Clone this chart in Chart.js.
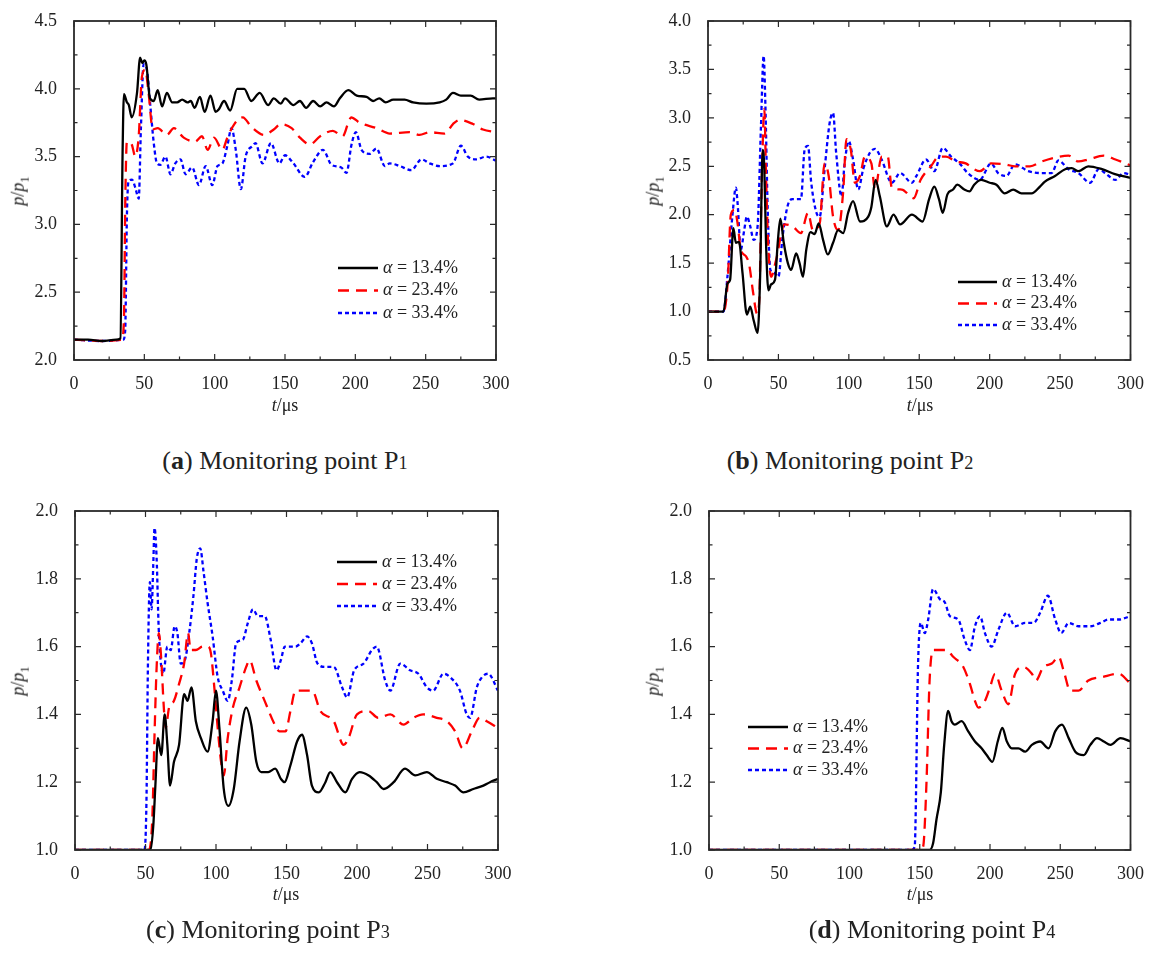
<!DOCTYPE html>
<html>
<head>
<meta charset="utf-8">
<script src="https://cdn.jsdelivr.net/npm/chart.js@4.4.1/dist/chart.umd.min.js"></script>
<style>
  html, body { margin: 0; padding: 0; background: #fff; }
  #page { position: relative; width: 1149px; height: 960px; overflow: hidden; font-family: "Liberation Serif", serif; color: #222; }
  canvas { position: absolute; }
  .ytitle { position: absolute; font-size: 18px; white-space: nowrap; transform: translate(-50%, -50%) rotate(-90deg); }
  .xtitle { position: absolute; font-size: 18px; white-space: nowrap; transform: translate(-50%, -50%); }
  .caption { position: absolute; font-size: 26px; white-space: nowrap; transform: translate(-50%, -50%); }
  .ytitle sub { font-size: 0.7em; font-style: normal; }
  .caption sub { font-size: 0.7em; vertical-align: 0; }
</style>
</head>
<body>
<div id="page">
  <canvas id="chartP1" width="520" height="420" style="left:0;top:0"></canvas>
  <canvas id="chartP2" width="515" height="420" style="left:634px;top:0"></canvas>
  <canvas id="chartP3" width="520" height="420" style="left:0;top:490px"></canvas>
  <canvas id="chartP4" width="515" height="420" style="left:634px;top:490px"></canvas>

  <div class="ytitle" style="left:20px;top:191px"><i>p</i>/<i>p</i><sub>1</sub></div>
  <div class="ytitle" style="left:655px;top:191px"><i>p</i>/<i>p</i><sub>1</sub></div>
  <div class="ytitle" style="left:20px;top:681px"><i>p</i>/<i>p</i><sub>1</sub></div>
  <div class="ytitle" style="left:655px;top:681px"><i>p</i>/<i>p</i><sub>1</sub></div>

  <div class="xtitle" style="left:285px;top:405px"><i>t</i>/μs</div>
  <div class="xtitle" style="left:920px;top:405px"><i>t</i>/μs</div>
  <div class="xtitle" style="left:286px;top:894px"><i>t</i>/μs</div>
  <div class="xtitle" style="left:920px;top:894px"><i>t</i>/μs</div>

  <div class="caption" style="left:285px;top:461px">(<b>a</b>) Monitoring point P<sub>1</sub></div>
  <div class="caption" style="left:850px;top:461px">(<b>b</b>) Monitoring point P<sub>2</sub></div>
  <div class="caption" style="left:268px;top:930px">(<b>c</b>) Monitoring point P<sub>3</sub></div>
  <div class="caption" style="left:932px;top:930px">(<b>d</b>) Monitoring point P<sub>4</sub></div>
</div>

<script>
// gas fraction of each run
const alphaLabels = ["13.4%", "23.4%", "33.4%"];

// [t (μs), p/p1] per monitoring point and gas fraction
const p1_a134 = [[0,2.15],[10,2.15],[20,2.14],[30,2.15],[33,2.16],[34.5,3.5],[35.5,3.96],[37.6,3.9],[39,3.88],[41,3.79],[44.8,3.97],[47,4.23],[48.5,4.19],[50,4.21],[51.4,4.18],[54,3.93],[56.7,3.91],[59.5,3.99],[62.6,3.87],[66,3.97],[69.8,3.9],[73.3,3.9],[76.9,3.92],[80.7,3.9],[83,3.91],[85.7,3.86],[89.5,3.94],[92.9,3.83],[97,3.95],[100.7,3.83],[103,3.85],[106.7,3.91],[111,3.84],[116,4.0],[121,4.0],[126,3.91],[132,3.97],[138,3.88],[142,3.93],[147,3.89],[150,3.93],[156,3.88],[160.6,3.91],[165,3.86],[170,3.91],[175,3.87],[179.5,3.9],[184.8,3.87],[189,3.93],[195,3.99],[201,3.95],[208,3.94],[212.6,3.91],[217,3.93],[221.6,3.9],[227,3.92],[235,3.92],[241,3.9],[250.5,3.89],[260,3.9],[264.6,3.92],[269.4,3.97],[275,3.95],[282,3.95],[288,3.92],[297.8,3.93],[300,3.93]];
const p1_a234 = [[0,2.15],[20,2.14],[34,2.15],[35.5,2.3],[36.5,3.2],[37.6,3.61],[41,3.59],[43.6,3.5],[46,3.65],[48.3,4.09],[50.7,4.14],[53,3.97],[56,3.7],[59.5,3.71],[66,3.66],[71,3.71],[78,3.64],[86,3.61],[91,3.65],[95,3.55],[99.5,3.64],[105.5,3.55],[109,3.64],[114,3.74],[120,3.79],[126,3.72],[135,3.66],[142,3.7],[147,3.74],[154.7,3.71],[160.6,3.64],[167.7,3.59],[175,3.65],[184,3.69],[191,3.65],[195,3.75],[197,3.79],[203,3.75],[215,3.71],[224.5,3.67],[238.6,3.68],[245.7,3.66],[252.8,3.68],[263.5,3.67],[269.4,3.74],[274,3.77],[283.6,3.74],[290.7,3.7],[300,3.68]];
const p1_a334 = [[0,2.15],[20,2.14],[35,2.15],[36.4,2.22],[37.6,3.06],[38.8,3.32],[41.2,3.33],[43.6,3.27],[46,3.19],[47.6,3.72],[49.5,4.18],[52,4.13],[54.3,3.87],[56.7,3.6],[59,3.45],[61.4,3.44],[65,3.5],[68.6,3.37],[72,3.45],[75.7,3.48],[79.3,3.37],[84,3.42],[88.8,3.29],[93.6,3.43],[98.3,3.29],[102,3.43],[105.5,3.45],[109,3.58],[112,3.71],[115,3.55],[118.6,3.26],[122,3.5],[127,3.58],[129,3.6],[134,3.45],[140,3.6],[146,3.45],[150,3.51],[156,3.45],[164,3.35],[170,3.46],[177,3.55],[183,3.44],[190,3.42],[193.7,3.38],[197.3,3.59],[200.4,3.68],[204.4,3.55],[210,3.52],[215,3.56],[221,3.43],[224.5,3.45],[231.6,3.43],[239.8,3.4],[247,3.48],[252.8,3.45],[260,3.43],[269.4,3.45],[275,3.58],[280,3.5],[286,3.48],[293,3.5],[300,3.47]];

const p2_a134 = [[0,1],[11,1],[13.8,1.29],[15.7,1.33],[18,1.86],[19.8,1.71],[22,1.72],[24.5,1.4],[27.6,0.97],[30,1.05],[32.4,0.91],[35.2,0.78],[37,1.36],[38.8,2.67],[40,2.47],[41.2,1.71],[42.9,1.22],[44.8,1.28],[47.6,1.33],[49.5,1.71],[51.4,1.96],[53.8,1.71],[56.7,1.5],[59,1.43],[62.6,1.6],[65,1.5],[67.4,1.36],[69.8,1.64],[72.8,1.82],[75.7,1.8],[78.6,1.91],[81.7,1.74],[85,1.59],[88.8,1.71],[92.4,1.84],[96,1.81],[99.5,2.02],[103,2.14],[107.9,1.93],[113.8,1.98],[116,2.08],[119,2.36],[122,2.19],[127,1.88],[131.7,2.0],[136.4,1.9],[144.8,2.0],[152.4,1.93],[157,2.16],[160.7,2.29],[164,2.16],[166.7,2.02],[170,2.21],[174,2.26],[177,2.31],[182,2.26],[185.7,2.24],[189,2.31],[194,2.36],[200,2.33],[204.8,2.31],[210.7,2.22],[216.7,2.26],[222.6,2.22],[229.8,2.22],[235.7,2.29],[239,2.34],[246.4,2.4],[253.6,2.47],[258.3,2.48],[263,2.45],[270,2.5],[279.8,2.47],[289,2.42],[300,2.38]];
const p2_a234 = [[0,1],[11,1],[14,1.3],[16.2,2.0],[19,2.05],[21,1.91],[23.3,1.64],[27,1.57],[29.3,1.48],[32,1.2],[34.8,0.98],[36.4,1.12],[38,2.22],[40,3.09],[41.2,2.4],[42.9,1.64],[44.8,1.36],[48.3,1.53],[54.3,1.9],[60,1.88],[66,1.81],[71,2.02],[74.5,1.84],[79.3,1.91],[82.8,2.53],[85.7,2.4],[88.8,1.98],[92.4,1.84],[96,2.24],[98.3,2.78],[101.4,2.67],[104.3,2.33],[107.9,2.4],[111.4,2.6],[116,2.53],[118.6,2.26],[123.3,2.6],[127.6,2.6],[130.5,2.28],[137.6,2.26],[146,2.17],[151,2.36],[158.3,2.5],[164,2.6],[169,2.6],[176,2.55],[183,2.53],[189,2.47],[193,2.45],[201,2.53],[210.7,2.52],[218,2.5],[228.6,2.5],[237,2.55],[246.4,2.59],[256,2.61],[263,2.55],[270,2.57],[281,2.61],[289.3,2.57],[300,2.51]];
const p2_a334 = [[0,1],[11,1],[13.8,1.36],[17.4,2.0],[19.8,2.28],[21,2.12],[23.3,1.64],[25.7,1.84],[27.6,1.98],[30,1.88],[32.4,1.74],[35.2,1.88],[37.6,2.91],[39.5,3.64],[40.7,3.16],[42.4,2.05],[44.3,1.43],[47,1.4],[50,1.36],[53,1.78],[56.7,2.1],[60,2.16],[66,2.16],[68.6,2.67],[71,2.71],[73.3,2.33],[77,2.02],[79.3,1.98],[82.8,2.47],[86.4,2.95],[88.8,3.05],[91,2.64],[94.8,2.19],[97,2.53],[100,2.76],[103,2.57],[106.7,2.26],[110.2,2.47],[115,2.64],[118.6,2.68],[123.3,2.57],[130.5,2.33],[136.4,2.43],[144.8,2.33],[148,2.4],[154.8,2.57],[160.7,2.45],[166.7,2.69],[172.6,2.6],[178.6,2.53],[184.5,2.43],[192.9,2.36],[201,2.53],[206,2.43],[211.9,2.4],[217.9,2.52],[227.4,2.45],[236.9,2.43],[244,2.43],[248.8,2.56],[256,2.47],[263,2.43],[271.4,2.33],[277.4,2.47],[282,2.43],[289.3,2.36],[295,2.43],[300,2.41]];

const p3_a134 = [[0,1],[53.6,1],[55.5,1.07],[57,1.19],[58.8,1.33],[61.2,1.28],[63.6,1.4],[65.5,1.31],[67.4,1.19],[70.2,1.26],[73.8,1.31],[77.4,1.46],[79.8,1.44],[82.6,1.48],[85.7,1.38],[89.3,1.33],[94,1.29],[97.6,1.38],[100,1.47],[102.4,1.36],[105.5,1.18],[108.8,1.13],[112.6,1.18],[116.7,1.32],[121.4,1.42],[125,1.37],[128.6,1.26],[132,1.23],[137,1.23],[142,1.24],[146,1.21],[148.6,1.2],[152.8,1.25],[157.5,1.32],[161,1.34],[164.6,1.28],[168,1.19],[172.9,1.17],[177.6,1.2],[181,1.23],[185.8,1.2],[191.7,1.17],[196.5,1.21],[201.9,1.23],[208.3,1.22],[214,1.2],[218.9,1.18],[226,1.2],[234,1.24],[241.3,1.22],[249.5,1.23],[256.6,1.21],[263.7,1.2],[269.6,1.19],[275.5,1.17],[282.5,1.18],[289.6,1.19],[294.3,1.2],[300,1.21]];
const p3_a234 = [[0,1],[52.4,1],[54.8,1.09],[56.4,1.34],[57.9,1.54],[59.5,1.64],[61.2,1.56],[63,1.42],[64.3,1.36],[66.7,1.42],[70.2,1.44],[73.8,1.49],[77.4,1.55],[80.2,1.64],[82,1.59],[85.7,1.59],[90.5,1.6],[94,1.6],[96.4,1.58],[98.8,1.48],[101.2,1.36],[103.6,1.26],[105.5,1.22],[108.3,1.33],[112,1.42],[116.7,1.48],[121.4,1.54],[123.8,1.56],[128.6,1.5],[134.5,1.44],[141.7,1.37],[145,1.35],[149.3,1.35],[152.8,1.41],[156.4,1.47],[162.3,1.47],[168.2,1.47],[174,1.41],[183.5,1.38],[190.6,1.31],[194,1.33],[200,1.4],[208,1.41],[215,1.39],[223.6,1.4],[233,1.37],[240,1.39],[247,1.4],[256.6,1.39],[263.7,1.38],[269.6,1.35],[275,1.3],[281.4,1.35],[287,1.39],[292,1.38],[300,1.36]];
const p3_a334 = [[0,1],[49.3,1],[50.7,1.15],[51.7,1.54],[53.1,1.79],[54.3,1.71],[55.5,1.84],[56.4,1.95],[57.9,1.86],[59.3,1.66],[60.7,1.56],[62.6,1.52],[65.5,1.6],[67.9,1.59],[70.7,1.66],[72.6,1.64],[75,1.55],[77.9,1.56],[81,1.64],[84,1.75],[86.4,1.86],[88.8,1.89],[91.2,1.82],[94,1.73],[97.6,1.63],[101.2,1.51],[104.8,1.47],[108.3,1.44],[111.2,1.5],[114.3,1.61],[119,1.62],[122.6,1.67],[126.2,1.71],[129.8,1.69],[134.5,1.69],[138.8,1.62],[142.9,1.53],[146,1.56],[148.8,1.6],[151.7,1.6],[156.4,1.6],[160,1.61],[164.6,1.63],[168,1.61],[172,1.55],[177.6,1.54],[183.5,1.54],[189.4,1.48],[193,1.45],[198,1.53],[204.7,1.55],[210.6,1.59],[214,1.6],[220,1.5],[223.6,1.47],[230.7,1.55],[237.7,1.53],[243.6,1.52],[249.5,1.48],[254,1.47],[261.3,1.52],[266,1.51],[273,1.47],[277.8,1.4],[280.2,1.39],[285,1.48],[288.7,1.51],[293,1.52],[300,1.47]];

const p4_a134 = [[0,1],[157,1],[159.5,1.02],[161.9,1.09],[165,1.17],[167.4,1.31],[170.2,1.41],[172.6,1.38],[175,1.37],[179.8,1.38],[184.5,1.35],[189.3,1.32],[194,1.3],[197.6,1.28],[201.7,1.26],[205.5,1.32],[208.8,1.36],[212,1.32],[215.5,1.3],[220.2,1.3],[225,1.29],[229.8,1.31],[235.7,1.32],[241.7,1.3],[246.4,1.35],[251.2,1.37],[256,1.33],[260.7,1.29],[266.7,1.28],[271.4,1.31],[276.2,1.33],[281,1.32],[285.7,1.31],[292.9,1.33],[300,1.32]];
const p4_a234 = [[0,1],[150,1],[152.4,1.01],[154.8,1.2],[157,1.5],[159.5,1.59],[164.3,1.59],[169,1.59],[173.8,1.57],[181,1.54],[185.7,1.49],[189.3,1.44],[191.7,1.42],[196.4,1.44],[200,1.48],[203.6,1.52],[208.3,1.47],[213,1.43],[217.9,1.52],[223.8,1.54],[229.8,1.52],[232.6,1.5],[238,1.54],[244,1.55],[248.8,1.57],[253,1.52],[257,1.47],[263,1.47],[270,1.5],[279.8,1.51],[291.7,1.52],[300,1.49]];
const p4_a334 = [[0,1],[144,1],[146.4,1.01],[148.8,1.55],[150.7,1.67],[153.6,1.64],[156,1.68],[159.5,1.77],[164.3,1.74],[167.9,1.73],[171.4,1.69],[177.4,1.68],[182,1.62],[185.7,1.59],[189.3,1.66],[192.9,1.69],[196.4,1.64],[201.2,1.6],[206,1.65],[212,1.7],[217.9,1.66],[225,1.67],[231,1.67],[235.7,1.7],[241.2,1.75],[246.4,1.68],[250.7,1.64],[256,1.67],[263,1.66],[271.4,1.66],[278.6,1.67],[284.5,1.68],[291.7,1.68],[300,1.69]];

const FONT = '"Liberation Serif", serif';

// box around the plot with inward major/minor ticks on all four sides
const frameTicks = {
  id: 'frameTicks',
  afterDraw(chart, args, opts) {
    const { ctx, chartArea: a, scales: { x, y } } = chart;
    ctx.save();
    ctx.strokeStyle = '#2a2a2a';
    ctx.lineWidth = 1.8;
    ctx.strokeRect(a.left, a.top, a.right - a.left, a.bottom - a.top);
    ctx.lineWidth = 1.2;
    ctx.beginPath();
    for (let i = 0, v = x.min; v <= x.max + 1e-6; i++, v = x.min + i * opts.xMinor) {
      const px = x.getPixelForValue(v);
      const len = i % 2 === 0 ? 6 : 3.5;
      ctx.moveTo(px, a.bottom); ctx.lineTo(px, a.bottom - len);
      ctx.moveTo(px, a.top); ctx.lineTo(px, a.top + len);
    }
    for (let i = 0, v = y.min; v <= y.max + 1e-6; i++, v = y.min + i * opts.yMinor) {
      const py = y.getPixelForValue(v);
      const len = i % 2 === 0 ? 6 : 3.5;
      ctx.moveTo(a.left, py); ctx.lineTo(a.left + len, py);
      ctx.moveTo(a.right, py); ctx.lineTo(a.right - len, py);
    }
    ctx.stroke();
    ctx.restore();
  }
};

// legend drawn inside the plot area
const insetLegend = {
  id: 'insetLegend',
  afterDatasetsDraw(chart, args, opts) {
    const ctx = chart.ctx;
    ctx.save();
    chart.data.datasets.forEach((ds, i) => {
      const y = opts.y + i * opts.gap;
      ctx.beginPath();
      ctx.setLineDash(ds.borderDash || []);
      ctx.lineWidth = ds.borderWidth;
      ctx.strokeStyle = ds.borderColor;
      ctx.moveTo(opts.x, y);
      ctx.lineTo(opts.x + opts.len, y);
      ctx.stroke();
      ctx.setLineDash([]);
      ctx.fillStyle = '#222';
      ctx.textBaseline = 'middle';
      let tx = opts.x + opts.len + 5;
      ctx.font = 'italic 18px ' + FONT;
      ctx.fillText('α', tx, y);
      tx += ctx.measureText('α').width;
      ctx.font = '18px ' + FONT;
      ctx.fillText(' = ' + alphaLabels[i], tx, y);
    });
    ctx.restore();
  }
};

function makeDatasets(black, red, blue) {
  const pts = arr => arr.map(p => ({ x: p[0], y: p[1] }));
  return [
    { label: 'α = ' + alphaLabels[0], data: pts(black), borderColor: '#000', borderWidth: 2.3, borderDash: [] },
    { label: 'α = ' + alphaLabels[1], data: pts(red), borderColor: '#ff0000', borderWidth: 2.3, borderDash: [11, 7] },
    { label: 'α = ' + alphaLabels[2], data: pts(blue), borderColor: '#0000ff', borderWidth: 2.3, borderDash: [4, 3] }
  ];
}

function drawPanel(id, sets, yMin, yMax, yStep, padRight, yWidth, legendPos) {
  new Chart(document.getElementById(id), {
    type: 'line',
    data: { datasets: makeDatasets(...sets) },
    options: {
      responsive: false,
      animation: false,
      layout: { padding: { top: 21, right: padRight, left: 0, bottom: 0 } },
      elements: {
        point: { radius: 0 },
        line: { tension: 0.35, cubicInterpolationMode: 'monotone', borderCapStyle: 'butt' }
      },
      plugins: {
        legend: { display: false },
        tooltip: { enabled: false },
        frameTicks: { xMinor: 25, yMinor: yStep / 2 },
        insetLegend: legendPos
      },
      scales: {
        x: {
          type: 'linear', min: 0, max: 300,
          ticks: { stepSize: 50, padding: 5, color: '#222', font: { family: FONT, size: 18 }, maxRotation: 0 },
          grid: { display: false },
          border: { display: false },
          afterFit: s => { s.height = 60; }
        },
        y: {
          min: yMin, max: yMax,
          ticks: { stepSize: yStep, padding: 9, color: '#222', font: { family: FONT, size: 18 }, callback: v => v.toFixed(1) },
          grid: { display: false },
          border: { display: false },
          afterFit: s => { s.width = yWidth; }
        }
      }
    },
    plugins: [frameTicks, insetLegend]
  });
}

drawPanel('chartP1', [p1_a134, p1_a234, p1_a334], 2.0, 4.5, 0.5, 24, 74, { x: 338, y: 268, gap: 22.5, len: 40 });
drawPanel('chartP2', [p2_a134, p2_a234, p2_a334], 0.5, 4.0, 0.5, 18, 74, { x: 958 - 634, y: 282, gap: 21.5, len: 39 });
drawPanel('chartP3', [p3_a134, p3_a234, p3_a334], 1.0, 2.0, 0.2, 22, 75, { x: 337, y: 562 - 490, gap: 22, len: 40 });
drawPanel('chartP4', [p4_a134, p4_a234, p4_a334], 1.0, 2.0, 0.2, 18, 75, { x: 748 - 634, y: 727 - 490, gap: 21.5, len: 40 });
</script>
</body>
</html>
